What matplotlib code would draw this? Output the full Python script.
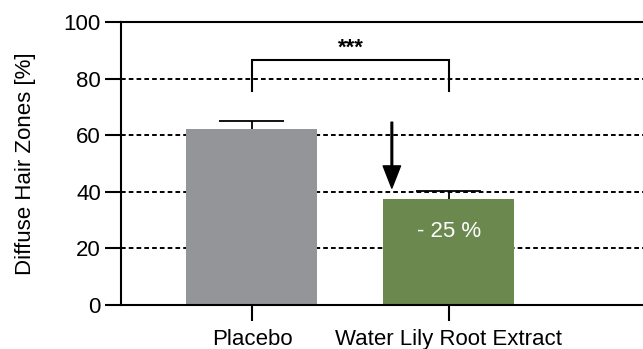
import numpy as np
import matplotlib.pyplot as plt

plt.rcParams['font.family'] = ['Liberation Sans', 'DejaVu Sans']

# data
groups = ["Placebo", "Water Lily Root Extract"]
means = [62.2, 37.5]
sem = [2.8, 2.8]
colors = ["#939598", "#6b884f"]
yticks = [0, 20, 40, 60, 80, 100]
grid_levels = [20, 40, 60, 80]
sig_label = "***"
reduction_label = "- 25 %"

fig = plt.figure(figsize=(6.43, 3.49), dpi=100)
ax = fig.add_axes([121 / 643, 1 - 305 / 349, 1 - 121 / 643, (305 - 22) / 349])

x = np.arange(len(groups))

# dashed horizontal lines behind the bars
for g in grid_levels:
    ax.axhline(g, color="black", lw=1.4, dashes=(2.4, 1.6), zorder=1)

ax.bar(x, means, width=0.665, color=colors, zorder=2)

# upper error bars only
tops = np.array(means) + np.array(sem)
ax.vlines(x, means, tops, color="black", lw=1.3, zorder=3)
ax.hlines(tops, x - 0.165, x + 0.165, color="black", lw=1.3, zorder=3)

# significance bracket
y_leg, y_top = 75.6, 86.6
ax.plot([x[0], x[0], x[1], x[1]], [y_leg, y_top, y_top, y_leg], color="black",
        lw=1.5, zorder=4, solid_joinstyle="miter")
ax.text((x[0] + x[1]) / 2, 90.8, sig_label, ha="center", va="center",
        fontsize=16, fontweight="bold")

# arrow showing reduction
ax.annotate("", xy=(0.71, 41.3), xytext=(0.71, 64.6),
            arrowprops=dict(facecolor="black", edgecolor="black", width=1.2,
                            headwidth=12.5, headlength=16, shrink=0),
            zorder=5)
ax.text(x[1], 25.8, reduction_label, ha="center", va="center", color="white",
        fontsize=16)

ax.set_xlim(-0.665, 1.985)
ax.set_ylim(0, 100)
ax.set_yticks(yticks)
ax.set_xticks(x)
ax.set_xticklabels(groups)
ax.set_ylabel("Diffuse Hair Zones [%]", fontsize=16, labelpad=20)

for side in ["left", "bottom", "top"]:
    ax.spines[side].set_linewidth(1.5)
ax.spines["right"].set_visible(False)
ax.tick_params(axis="both", direction="out", length=11.5, width=1.5,
               labelsize=16, pad=3)
ax.tick_params(axis="x", pad=5.5)

fig.savefig("out.png", dpi=100)
